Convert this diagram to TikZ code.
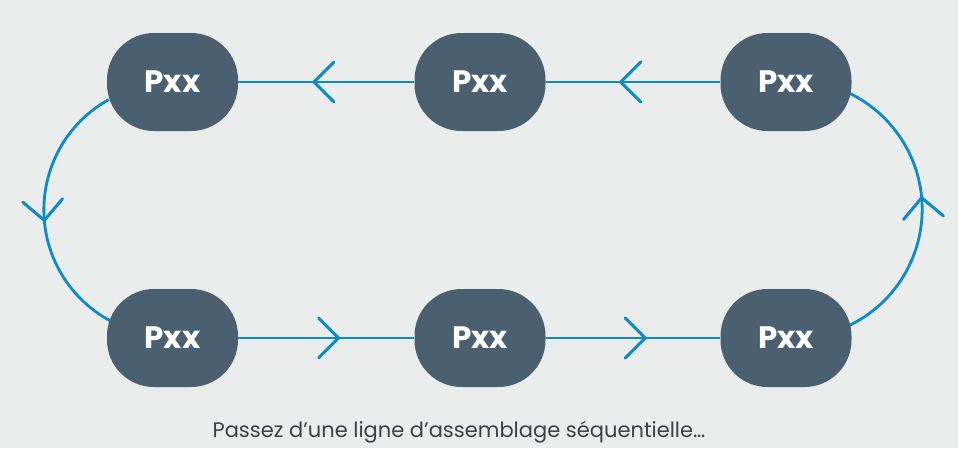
\documentclass[tikz,border=0pt]{standalone}
\usepackage{fontspec}
\setmainfont{Poppins}
\usetikzlibrary{decorations.markings}
\definecolor{bgc}{HTML}{EBEDEC}
\definecolor{nodec}{HTML}{4A6070}
\definecolor{linec}{HTML}{0B8BC9}
\definecolor{txtc}{HTML}{3C4146}
\pgfdeclarelayer{bg}
\pgfdeclarelayer{lines}
\pgfsetlayers{bg,lines,main}
\tikzset{
  pbox/.style={fill=nodec, rounded corners=47pt, minimum width=131pt, minimum height=98pt,
    inner sep=0pt, text=white, font=\fontsize{31}{31}\selectfont\bfseries},
  chev/.style={decoration={markings, mark=at position #1 with {
      \draw[linec, line width=3pt, line cap=round, line join=miter] (-20pt,20pt) -- (0pt,0pt) -- (-20pt,-20pt);}},
    postaction={decorate}},
  conn/.style={draw=linec, line width=2.8pt},
}
\begin{document}
\begin{tikzpicture}[x=1pt,y=1pt]
\begin{pgfonlayer}{bg}
\fill[bgc] (0,0) rectangle (958,-448);
\end{pgfonlayer}
\useasboundingbox (0,0) rectangle (958,-448);
\node[pbox] (n1) at (172.5,-82) {Pxx};
\node[pbox] (n2) at (480,-82) {Pxx};
\node[pbox] (n3) at (786,-82) {Pxx};
\node[pbox] (n4) at (172.5,-338) {Pxx};
\node[pbox] (n5) at (480,-338) {Pxx};
\node[pbox] (n6) at (786,-338) {Pxx};
\node[text=txtc, font=\fontsize{21}{21}\selectfont, anchor=base] (cap) at (459,-437) {Passez d’une ligne d’assemblage séquentielle…};
\begin{pgfonlayer}{lines}
\draw[conn, chev=0.57] (n2.west) -- (n1.east);
\draw[conn, chev=0.57] (n3.west) -- (n2.east);
\draw[conn, chev=0.57] (n4.east) -- (n5.west);
\draw[conn, chev=0.57] (n5.east) -- (n6.west);
\draw[conn, chev=0.535] ([xshift=2pt]n1.195) arc[start angle=119, end angle=242, radius=126];
\draw[conn, chev=0.54] ([xshift=-2pt]n6.11) arc[start angle=-64, end angle=64, radius=129];
\end{pgfonlayer}
\end{tikzpicture}
\end{document}
